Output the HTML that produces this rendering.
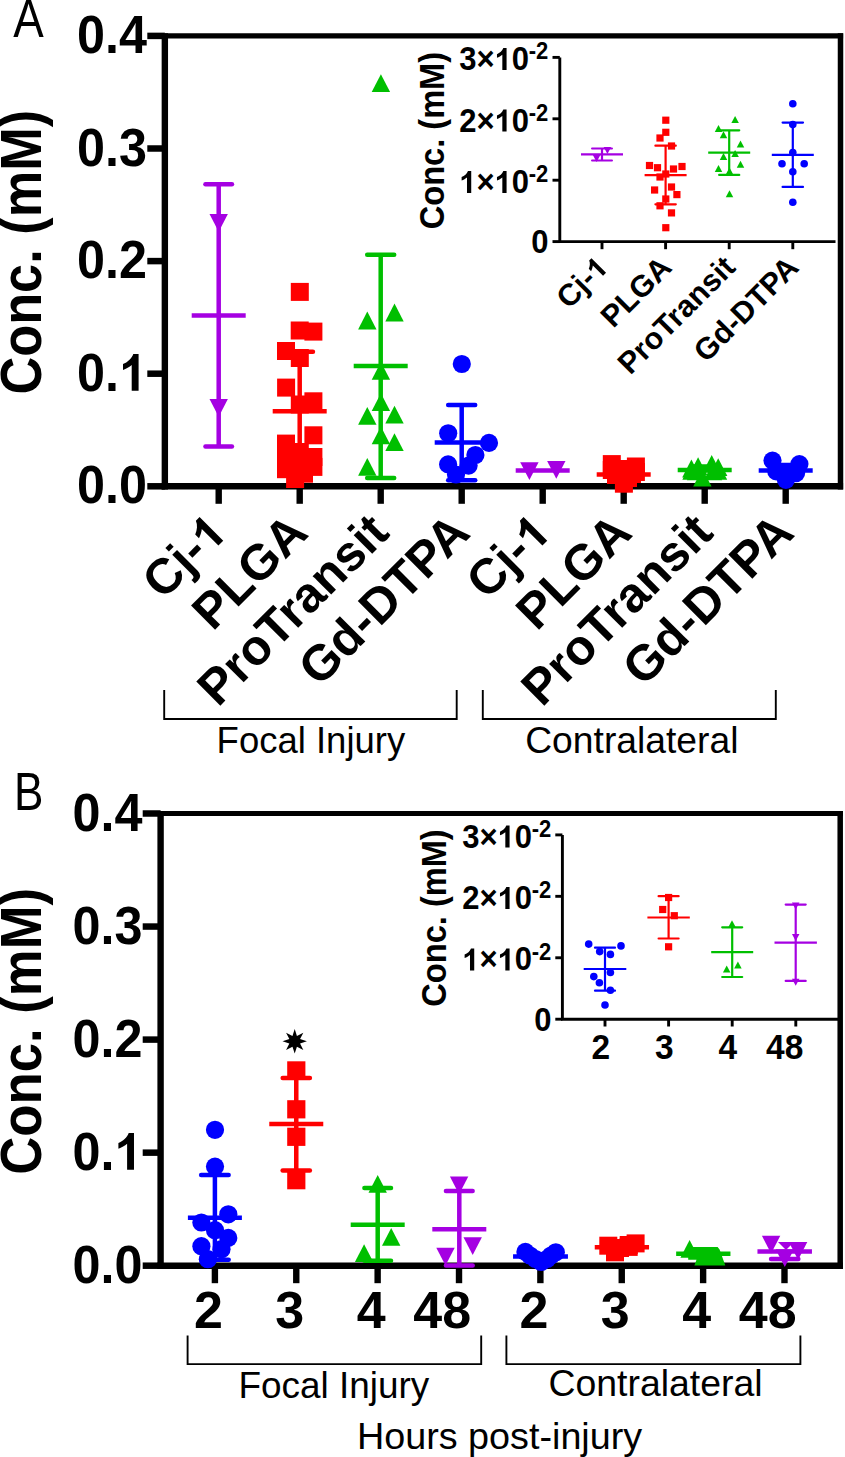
<!DOCTYPE html>
<html><head><meta charset="utf-8"><title>Chart</title>
<style>
html,body{margin:0;padding:0;background:#fff;}
body{width:845px;height:1457px;overflow:hidden;}
svg{display:block;}
text{font-family:"Liberation Sans",sans-serif;}
</style></head>
<body>
<svg width="845" height="1457" viewBox="0 0 845 1457">
<rect x="0" y="0" width="845" height="1457" fill="#fff"/>
<line x1="164.85" y1="35.9" x2="843.1" y2="35.9" stroke="#000000" stroke-width="5.2" stroke-linecap="butt"/>
<line x1="840.5" y1="33.3" x2="840.5" y2="489.5" stroke="#000000" stroke-width="5.5" stroke-linecap="butt"/>
<line x1="164.85" y1="33.3" x2="164.85" y2="489.5" stroke="#000000" stroke-width="6.4" stroke-linecap="butt"/>
<line x1="161.65" y1="486.3" x2="843.1" y2="486.3" stroke="#000000" stroke-width="6.4" stroke-linecap="butt"/>
<line x1="147.3" y1="486.3" x2="164.85" y2="486.3" stroke="#000000" stroke-width="6.5" stroke-linecap="butt"/>
<text transform="translate(147,503.3) scale(1,1.08)" font-family="Liberation Sans, sans-serif" font-size="50.3" font-weight="bold" text-anchor="end" fill="#000000">0.0</text>
<line x1="147.3" y1="373.7" x2="164.85" y2="373.7" stroke="#000000" stroke-width="6.5" stroke-linecap="butt"/>
<g transform="translate(147,390.7) scale(1,1.08)"><text font-family="Liberation Sans, sans-serif" font-size="50.3" font-weight="bold" text-anchor="end" fill="#000000">0. </text><path d="M-15.3,0L-8.41,0L-8.41,-34L-13.69,-34C-15.4,-29.68 -19.42,-26.41 -24,-24.65L-24,-19.26C-20.93,-20.12 -17.41,-22.13 -15.3,-23.89Z" fill="#000000"/></g>
<line x1="147.3" y1="261.1" x2="164.85" y2="261.1" stroke="#000000" stroke-width="6.5" stroke-linecap="butt"/>
<text transform="translate(147,278.1) scale(1,1.08)" font-family="Liberation Sans, sans-serif" font-size="50.3" font-weight="bold" text-anchor="end" fill="#000000">0.2</text>
<line x1="147.3" y1="148.5" x2="164.85" y2="148.5" stroke="#000000" stroke-width="6.5" stroke-linecap="butt"/>
<text transform="translate(147,165.5) scale(1,1.08)" font-family="Liberation Sans, sans-serif" font-size="50.3" font-weight="bold" text-anchor="end" fill="#000000">0.3</text>
<line x1="147.3" y1="35.9" x2="164.85" y2="35.9" stroke="#000000" stroke-width="6.5" stroke-linecap="butt"/>
<text transform="translate(147,52.9) scale(1,1.08)" font-family="Liberation Sans, sans-serif" font-size="50.3" font-weight="bold" text-anchor="end" fill="#000000">0.4</text>
<line x1="218.7" y1="486.3" x2="218.7" y2="503.8" stroke="#000000" stroke-width="6.4" stroke-linecap="butt"/>
<line x1="299.7" y1="486.3" x2="299.7" y2="503.8" stroke="#000000" stroke-width="6.4" stroke-linecap="butt"/>
<line x1="380.7" y1="486.3" x2="380.7" y2="503.8" stroke="#000000" stroke-width="6.4" stroke-linecap="butt"/>
<line x1="461.7" y1="486.3" x2="461.7" y2="503.8" stroke="#000000" stroke-width="6.4" stroke-linecap="butt"/>
<line x1="542.7" y1="486.3" x2="542.7" y2="503.8" stroke="#000000" stroke-width="6.4" stroke-linecap="butt"/>
<line x1="623.7" y1="486.3" x2="623.7" y2="503.8" stroke="#000000" stroke-width="6.4" stroke-linecap="butt"/>
<line x1="704.7" y1="486.3" x2="704.7" y2="503.8" stroke="#000000" stroke-width="6.4" stroke-linecap="butt"/>
<line x1="785.7" y1="486.3" x2="785.7" y2="503.8" stroke="#000000" stroke-width="6.4" stroke-linecap="butt"/>
<text transform="translate(40.5,252.2) rotate(-90) scale(1,1.08)" font-family="Liberation Sans, sans-serif" font-size="52.3" font-weight="bold" text-anchor="middle" fill="#000000">Conc. (mM)</text>
<g transform="translate(216.7,522.5) rotate(-45)"><text font-family="Liberation Sans, sans-serif" font-size="49.5" font-weight="bold" text-anchor="end" fill="#000000" dy="17.5">Cj- </text><path d="M-15.06,17.5L-8.27,17.5L-8.27,-15.96L-13.47,-15.96C-15.15,-11.7 -19.11,-8.49 -23.62,-6.75L-23.62,-1.46C-20.6,-2.3 -17.13,-4.28 -15.06,-6.01Z" fill="#000000"/></g>
<text transform="translate(297.7,522.5) rotate(-45)" font-family="Liberation Sans, sans-serif" font-size="49.5" font-weight="bold" text-anchor="end" fill="#000000" dy="17.5">PLGA</text>
<text transform="translate(378.7,522.5) rotate(-45)" font-family="Liberation Sans, sans-serif" font-size="49.5" font-weight="bold" text-anchor="end" fill="#000000" dy="17.5">ProTransit</text>
<text transform="translate(459.7,522.5) rotate(-45)" font-family="Liberation Sans, sans-serif" font-size="49.5" font-weight="bold" text-anchor="end" fill="#000000" dy="17.5">Gd-DTPA</text>
<g transform="translate(540.7,522.5) rotate(-45)"><text font-family="Liberation Sans, sans-serif" font-size="49.5" font-weight="bold" text-anchor="end" fill="#000000" dy="17.5">Cj- </text><path d="M-15.06,17.5L-8.27,17.5L-8.27,-15.96L-13.47,-15.96C-15.15,-11.7 -19.11,-8.49 -23.62,-6.75L-23.62,-1.46C-20.6,-2.3 -17.13,-4.28 -15.06,-6.01Z" fill="#000000"/></g>
<text transform="translate(621.7,522.5) rotate(-45)" font-family="Liberation Sans, sans-serif" font-size="49.5" font-weight="bold" text-anchor="end" fill="#000000" dy="17.5">PLGA</text>
<text transform="translate(702.7,522.5) rotate(-45)" font-family="Liberation Sans, sans-serif" font-size="49.5" font-weight="bold" text-anchor="end" fill="#000000" dy="17.5">ProTransit</text>
<text transform="translate(783.7,522.5) rotate(-45)" font-family="Liberation Sans, sans-serif" font-size="49.5" font-weight="bold" text-anchor="end" fill="#000000" dy="17.5">Gd-DTPA</text>
<path d="M164.2,690 V719 H456.7 V690" fill="none" stroke="#000" stroke-width="1.9"/>
<path d="M482.8,690 V719 H775.8 V690" fill="none" stroke="#000" stroke-width="1.9"/>
<text transform="translate(216.6,753.2)" font-family="Liberation Sans, sans-serif" font-size="37.5" font-weight="normal" text-anchor="start" fill="#000000" textLength="188.6" lengthAdjust="spacingAndGlyphs">Focal Injury</text>
<text transform="translate(525.2,752.7)" font-family="Liberation Sans, sans-serif" font-size="37.5" font-weight="normal" text-anchor="start" fill="#000000" textLength="213.3" lengthAdjust="spacingAndGlyphs">Contralateral</text>
<text transform="translate(13.2,36.8) scale(0.85,1)" font-family="Liberation Sans, sans-serif" font-size="53.8" font-weight="normal" text-anchor="start" fill="#000000">A</text>
<line x1="218.7" y1="184.3" x2="218.7" y2="446.5" stroke="#A500E2" stroke-width="4.5" stroke-linecap="butt"/>
<line x1="205.45" y1="184.3" x2="231.95" y2="184.3" stroke="#A500E2" stroke-width="4.5" stroke-linecap="round"/>
<line x1="205.45" y1="446.5" x2="231.95" y2="446.5" stroke="#A500E2" stroke-width="4.5" stroke-linecap="round"/>
<line x1="191.7" y1="315.4" x2="245.7" y2="315.4" stroke="#A500E2" stroke-width="4.5" stroke-linecap="butt"/>
<polygon points="209.5,214 227.9,214 218.7,231.8" fill="#A500E2"/>
<polygon points="209.5,398.9 227.9,398.9 218.7,416.7" fill="#A500E2"/>
<line x1="299.7" y1="351.7" x2="299.7" y2="470" stroke="#FF0000" stroke-width="4.5" stroke-linecap="butt"/>
<line x1="286.45" y1="351.7" x2="312.95" y2="351.7" stroke="#FF0000" stroke-width="4.5" stroke-linecap="round"/>
<line x1="286.45" y1="470" x2="312.95" y2="470" stroke="#FF0000" stroke-width="4.5" stroke-linecap="round"/>
<line x1="272.7" y1="411.2" x2="326.7" y2="411.2" stroke="#FF0000" stroke-width="4.5" stroke-linecap="butt"/>
<rect x="290.8" y="282.9" width="18" height="18" fill="#FF0000"/>
<rect x="290.7" y="321.5" width="18" height="18" fill="#FF0000"/>
<rect x="304.4" y="322.6" width="18" height="18" fill="#FF0000"/>
<rect x="277" y="342" width="18" height="18" fill="#FF0000"/>
<rect x="290.8" y="349" width="18" height="18" fill="#FF0000"/>
<rect x="277.1" y="378.6" width="18" height="18" fill="#FF0000"/>
<rect x="290.8" y="395.5" width="18" height="18" fill="#FF0000"/>
<rect x="304.4" y="392.3" width="18" height="18" fill="#FF0000"/>
<rect x="304.4" y="426.3" width="18" height="18" fill="#FF0000"/>
<rect x="277" y="434.6" width="18" height="18" fill="#FF0000"/>
<rect x="277" y="452" width="18" height="18" fill="#FF0000"/>
<rect x="277" y="460.2" width="18" height="18" fill="#FF0000"/>
<rect x="290.8" y="443" width="18" height="18" fill="#FF0000"/>
<rect x="290.8" y="455" width="18" height="18" fill="#FF0000"/>
<rect x="304.4" y="448" width="18" height="18" fill="#FF0000"/>
<rect x="304.4" y="457.9" width="18" height="18" fill="#FF0000"/>
<rect x="295" y="464.7" width="18" height="18" fill="#FF0000"/>
<rect x="286.1" y="470" width="18" height="18" fill="#FF0000"/>
<line x1="380.7" y1="254.8" x2="380.7" y2="478" stroke="#00BF00" stroke-width="4.5" stroke-linecap="butt"/>
<line x1="367.2" y1="254.8" x2="394.2" y2="254.8" stroke="#00BF00" stroke-width="4.5" stroke-linecap="round"/>
<line x1="367.2" y1="478" x2="394.2" y2="478" stroke="#00BF00" stroke-width="4.5" stroke-linecap="round"/>
<line x1="353.7" y1="366.1" x2="407.7" y2="366.1" stroke="#00BF00" stroke-width="4.5" stroke-linecap="butt"/>
<polygon points="371.7,92 380.9,74.2 390.1,92" fill="#00BF00"/>
<polygon points="358.1,329.4 367.3,311.6 376.5,329.4" fill="#00BF00"/>
<polygon points="385.3,321.4 394.5,303.6 403.7,321.4" fill="#00BF00"/>
<polygon points="371.7,379.8 380.9,362 390.1,379.8" fill="#00BF00"/>
<polygon points="371.7,411.1 380.9,393.3 390.1,411.1" fill="#00BF00"/>
<polygon points="358.1,424.7 367.3,406.9 376.5,424.7" fill="#00BF00"/>
<polygon points="385.3,423.5 394.5,405.7 403.7,423.5" fill="#00BF00"/>
<polygon points="371.7,444.3 380.9,426.5 390.1,444.3" fill="#00BF00"/>
<polygon points="385.3,451.1 394.5,433.3 403.7,451.1" fill="#00BF00"/>
<polygon points="358.1,475.7 367.3,457.9 376.5,475.7" fill="#00BF00"/>
<line x1="461.7" y1="405.1" x2="461.7" y2="480.2" stroke="#0000FF" stroke-width="4.5" stroke-linecap="butt"/>
<line x1="448.2" y1="405.1" x2="475.2" y2="405.1" stroke="#0000FF" stroke-width="4.5" stroke-linecap="round"/>
<line x1="448.2" y1="480.2" x2="475.2" y2="480.2" stroke="#0000FF" stroke-width="4.5" stroke-linecap="round"/>
<line x1="434.7" y1="442.5" x2="488.7" y2="442.5" stroke="#0000FF" stroke-width="4.5" stroke-linecap="butt"/>
<circle cx="461.8" cy="364" r="9.1" fill="#0000FF"/>
<circle cx="448.2" cy="433.3" r="9.1" fill="#0000FF"/>
<circle cx="489" cy="442.9" r="9.1" fill="#0000FF"/>
<circle cx="475.4" cy="455" r="9.1" fill="#0000FF"/>
<circle cx="448.1" cy="464.4" r="9.1" fill="#0000FF"/>
<circle cx="468.6" cy="465.6" r="9.1" fill="#0000FF"/>
<circle cx="456" cy="474.5" r="9.1" fill="#0000FF"/>
<line x1="515.7" y1="470.6" x2="569.7" y2="470.6" stroke="#A500E2" stroke-width="4.5" stroke-linecap="butt"/>
<polygon points="520.2,462.2 538.6,462.2 529.4,480" fill="#A500E2"/>
<polygon points="547.1,461 565.5,461 556.3,478.8" fill="#A500E2"/>
<line x1="596.7" y1="474.4" x2="650.7" y2="474.4" stroke="#FF0000" stroke-width="4.5" stroke-linecap="butt"/>
<rect x="602.8" y="455.1" width="18" height="18" fill="#FF0000"/>
<rect x="626.9" y="457.5" width="18" height="18" fill="#FF0000"/>
<rect x="607" y="466" width="18" height="18" fill="#FF0000"/>
<rect x="623" y="465" width="18" height="18" fill="#FF0000"/>
<rect x="614.9" y="474.7" width="18" height="18" fill="#FF0000"/>
<rect x="613" y="460" width="18" height="18" fill="#FF0000"/>
<rect x="619" y="469" width="18" height="18" fill="#FF0000"/>
<rect x="602.8" y="461" width="18" height="18" fill="#FF0000"/>
<rect x="626.9" y="463" width="18" height="18" fill="#FF0000"/>
<line x1="691.45" y1="466.5" x2="717.95" y2="466.5" stroke="#00BF00" stroke-width="4.5" stroke-linecap="round"/>
<line x1="677.7" y1="470" x2="731.7" y2="470" stroke="#00BF00" stroke-width="4.5" stroke-linecap="butt"/>
<polygon points="682.2,477.4 691.4,459.6 700.6,477.4" fill="#00BF00"/>
<polygon points="688.9,475 698.1,457.2 707.3,475" fill="#00BF00"/>
<polygon points="702.5,472.8 711.7,455 720.9,472.8" fill="#00BF00"/>
<polygon points="709,476.1 718.2,458.3 727.4,476.1" fill="#00BF00"/>
<polygon points="693.2,486.6 702.4,468.8 711.6,486.6" fill="#00BF00"/>
<polygon points="682.3,479.8 691.5,462 700.7,479.8" fill="#00BF00"/>
<polygon points="708.8,479.8 718,462 727.2,479.8" fill="#00BF00"/>
<polygon points="686.8,480.3 696,462.5 705.2,480.3" fill="#00BF00"/>
<polygon points="703.8,480.3 713,462.5 722.2,480.3" fill="#00BF00"/>
<line x1="772.45" y1="465" x2="798.95" y2="465" stroke="#0000FF" stroke-width="4.5" stroke-linecap="round"/>
<line x1="758.7" y1="470.6" x2="812.7" y2="470.6" stroke="#0000FF" stroke-width="4.5" stroke-linecap="butt"/>
<circle cx="772.5" cy="460.6" r="9.1" fill="#0000FF"/>
<circle cx="799.4" cy="464.1" r="9.1" fill="#0000FF"/>
<circle cx="776.3" cy="471.3" r="9.1" fill="#0000FF"/>
<circle cx="785.9" cy="479.8" r="9.1" fill="#0000FF"/>
<circle cx="796.1" cy="473.1" r="9.1" fill="#0000FF"/>
<circle cx="786" cy="474.5" r="9.1" fill="#0000FF"/>
<path d="M559.8,57.4 V241.6 H835.5" fill="none" stroke="#000" stroke-width="2.9"/>
<line x1="552.5" y1="241.6" x2="559.8" y2="241.6" stroke="#000000" stroke-width="2.9" stroke-linecap="butt"/>
<line x1="552.5" y1="180.2" x2="559.8" y2="180.2" stroke="#000000" stroke-width="2.9" stroke-linecap="butt"/>
<line x1="552.5" y1="118.8" x2="559.8" y2="118.8" stroke="#000000" stroke-width="2.9" stroke-linecap="butt"/>
<line x1="552.5" y1="57.4" x2="559.8" y2="57.4" stroke="#000000" stroke-width="2.9" stroke-linecap="butt"/>
<line x1="602" y1="241.6" x2="602" y2="249.2" stroke="#000000" stroke-width="2.9" stroke-linecap="butt"/>
<line x1="665.6" y1="241.6" x2="665.6" y2="249.2" stroke="#000000" stroke-width="2.9" stroke-linecap="butt"/>
<line x1="729.2" y1="241.6" x2="729.2" y2="249.2" stroke="#000000" stroke-width="2.9" stroke-linecap="butt"/>
<line x1="792.8" y1="241.6" x2="792.8" y2="249.2" stroke="#000000" stroke-width="2.9" stroke-linecap="butt"/>
<g transform="translate(529,192.9) scale(1,1.05)"><text font-family="Liberation Sans, sans-serif" font-size="31" font-weight="bold" text-anchor="end" fill="#000000"> × 0</text><path d="M-62.01,0L-57.77,0L-57.77,-20.96L-61.02,-20.96C-62.08,-18.29 -64.56,-16.28 -67.38,-15.19L-67.38,-11.87C-65.49,-12.4 -63.32,-13.64 -62.01,-14.72ZM-26.67,0L-22.42,0L-22.42,-20.96L-25.68,-20.96C-26.73,-18.29 -29.21,-16.28 -32.03,-15.19L-32.03,-11.87C-30.14,-12.4 -27.97,-13.64 -26.67,-14.72Z" fill="#000000"/></g>
<text transform="translate(548.3,182) scale(1,1.05)" font-family="Liberation Sans, sans-serif" font-size="22" font-weight="bold" text-anchor="end" fill="#000000">-2</text>
<g transform="translate(529,131.5) scale(1,1.05)"><text font-family="Liberation Sans, sans-serif" font-size="31" font-weight="bold" text-anchor="end" fill="#000000">2× 0</text><path d="M-26.67,0L-22.42,0L-22.42,-20.96L-25.68,-20.96C-26.73,-18.29 -29.21,-16.28 -32.03,-15.19L-32.03,-11.87C-30.14,-12.4 -27.97,-13.64 -26.67,-14.72Z" fill="#000000"/></g>
<text transform="translate(548.3,120.6) scale(1,1.05)" font-family="Liberation Sans, sans-serif" font-size="22" font-weight="bold" text-anchor="end" fill="#000000">-2</text>
<g transform="translate(529,70.1) scale(1,1.05)"><text font-family="Liberation Sans, sans-serif" font-size="31" font-weight="bold" text-anchor="end" fill="#000000">3× 0</text><path d="M-26.67,0L-22.42,0L-22.42,-20.96L-25.68,-20.96C-26.73,-18.29 -29.21,-16.28 -32.03,-15.19L-32.03,-11.87C-30.14,-12.4 -27.97,-13.64 -26.67,-14.72Z" fill="#000000"/></g>
<text transform="translate(548.3,59.2) scale(1,1.05)" font-family="Liberation Sans, sans-serif" font-size="22" font-weight="bold" text-anchor="end" fill="#000000">-2</text>
<text transform="translate(548.6,253.4) scale(1,1.05)" font-family="Liberation Sans, sans-serif" font-size="31" font-weight="bold" text-anchor="end" fill="#000000">0</text>
<text transform="translate(443.5,140.6) rotate(-90) scale(1,1.05)" font-family="Liberation Sans, sans-serif" font-size="32.6" font-weight="bold" text-anchor="middle" fill="#000000">Conc. (mM)</text>
<g transform="translate(602,261.5) rotate(-45)"><text font-family="Liberation Sans, sans-serif" font-size="30.5" font-weight="bold" text-anchor="end" fill="#000000" dy="10.8">Cj- </text><path d="M-9.28,10.8L-5.1,10.8L-5.1,-9.82L-8.3,-9.82C-9.34,-7.19 -11.78,-5.21 -14.55,-4.14L-14.55,-0.88C-12.69,-1.4 -10.56,-2.62 -9.28,-3.69Z" fill="#000000"/></g>
<text transform="translate(665.6,261.5) rotate(-45)" font-family="Liberation Sans, sans-serif" font-size="30.5" font-weight="bold" text-anchor="end" fill="#000000" dy="10.8">PLGA</text>
<text transform="translate(729.2,261.5) rotate(-45)" font-family="Liberation Sans, sans-serif" font-size="30.5" font-weight="bold" text-anchor="end" fill="#000000" dy="10.8">ProTransit</text>
<text transform="translate(792.8,261.5) rotate(-45)" font-family="Liberation Sans, sans-serif" font-size="30.5" font-weight="bold" text-anchor="end" fill="#000000" dy="10.8">Gd-DTPA</text>
<line x1="602" y1="148.5" x2="602" y2="160.5" stroke="#A500E2" stroke-width="2.2" stroke-linecap="butt"/>
<line x1="592.1" y1="148.5" x2="611.9" y2="148.5" stroke="#A500E2" stroke-width="2.2" stroke-linecap="round"/>
<line x1="592.1" y1="160.5" x2="611.9" y2="160.5" stroke="#A500E2" stroke-width="2.2" stroke-linecap="round"/>
<line x1="581" y1="154.3" x2="623" y2="154.3" stroke="#A500E2" stroke-width="2.2" stroke-linecap="butt"/>
<polygon points="592.85,155 600.35,155 596.6,162" fill="#A500E2"/>
<polygon points="603.65,147 611.15,147 607.4,154" fill="#A500E2"/>
<line x1="665.6" y1="145.7" x2="665.6" y2="204.3" stroke="#FF0000" stroke-width="2.2" stroke-linecap="butt"/>
<line x1="655.4" y1="145.7" x2="675.8" y2="145.7" stroke="#FF0000" stroke-width="2.2" stroke-linecap="round"/>
<line x1="655.4" y1="204.3" x2="675.8" y2="204.3" stroke="#FF0000" stroke-width="2.2" stroke-linecap="round"/>
<line x1="644.6" y1="175.1" x2="686.6" y2="175.1" stroke="#FF0000" stroke-width="2.2" stroke-linecap="butt"/>
<rect x="662.2" y="116.6" width="7.2" height="7.2" fill="#FF0000"/>
<rect x="662.2" y="128.7" width="7.2" height="7.2" fill="#FF0000"/>
<rect x="656.4" y="134.4" width="7.2" height="7.2" fill="#FF0000"/>
<rect x="667.9" y="142.4" width="7.2" height="7.2" fill="#FF0000"/>
<rect x="645.9" y="161.9" width="7.2" height="7.2" fill="#FF0000"/>
<rect x="653.9" y="164.1" width="7.2" height="7.2" fill="#FF0000"/>
<rect x="669.9" y="165.4" width="7.2" height="7.2" fill="#FF0000"/>
<rect x="678.4" y="162.9" width="7.2" height="7.2" fill="#FF0000"/>
<rect x="662.2" y="170.4" width="7.2" height="7.2" fill="#FF0000"/>
<rect x="656.4" y="173.4" width="7.2" height="7.2" fill="#FF0000"/>
<rect x="651" y="186.4" width="7.2" height="7.2" fill="#FF0000"/>
<rect x="667.9" y="183.4" width="7.2" height="7.2" fill="#FF0000"/>
<rect x="673.3" y="191" width="7.2" height="7.2" fill="#FF0000"/>
<rect x="662.2" y="195.4" width="7.2" height="7.2" fill="#FF0000"/>
<rect x="656.4" y="202.2" width="7.2" height="7.2" fill="#FF0000"/>
<rect x="667.9" y="209.3" width="7.2" height="7.2" fill="#FF0000"/>
<rect x="662.2" y="224.1" width="7.2" height="7.2" fill="#FF0000"/>
<line x1="729.2" y1="130.3" x2="729.2" y2="174.9" stroke="#00BF00" stroke-width="2.2" stroke-linecap="butt"/>
<line x1="719.15" y1="130.3" x2="739.25" y2="130.3" stroke="#00BF00" stroke-width="2.2" stroke-linecap="round"/>
<line x1="719.15" y1="174.9" x2="739.25" y2="174.9" stroke="#00BF00" stroke-width="2.2" stroke-linecap="round"/>
<line x1="708.2" y1="152.6" x2="750.2" y2="152.6" stroke="#00BF00" stroke-width="2.2" stroke-linecap="butt"/>
<polygon points="731.35,123.1 735.1,116.1 738.85,123.1" fill="#00BF00"/>
<polygon points="714.75,131.9 718.5,124.9 722.25,131.9" fill="#00BF00"/>
<polygon points="719.75,138.3 723.5,131.3 727.25,138.3" fill="#00BF00"/>
<polygon points="736.75,147.6 740.5,140.6 744.25,147.6" fill="#00BF00"/>
<polygon points="719.75,160 723.5,153 727.25,160" fill="#00BF00"/>
<polygon points="731.35,156.9 735.1,149.9 738.85,156.9" fill="#00BF00"/>
<polygon points="736.75,167.7 740.5,160.7 744.25,167.7" fill="#00BF00"/>
<polygon points="714.75,171.9 718.5,164.9 722.25,171.9" fill="#00BF00"/>
<polygon points="725.75,174.5 729.5,167.5 733.25,174.5" fill="#00BF00"/>
<polygon points="725.75,197.2 729.5,190.2 733.25,197.2" fill="#00BF00"/>
<line x1="792.8" y1="122.6" x2="792.8" y2="186.9" stroke="#0000FF" stroke-width="2.2" stroke-linecap="butt"/>
<line x1="782.6" y1="122.6" x2="803" y2="122.6" stroke="#0000FF" stroke-width="2.2" stroke-linecap="round"/>
<line x1="782.6" y1="186.9" x2="803" y2="186.9" stroke="#0000FF" stroke-width="2.2" stroke-linecap="round"/>
<line x1="771.8" y1="154.9" x2="813.8" y2="154.9" stroke="#0000FF" stroke-width="2.2" stroke-linecap="butt"/>
<circle cx="792.8" cy="103.8" r="3.8" fill="#0000FF"/>
<circle cx="792.8" cy="124.6" r="3.8" fill="#0000FF"/>
<circle cx="792.8" cy="152.6" r="3.8" fill="#0000FF"/>
<circle cx="782" cy="163.8" r="3.8" fill="#0000FF"/>
<circle cx="804.2" cy="163.8" r="3.8" fill="#0000FF"/>
<circle cx="792.8" cy="171.8" r="3.8" fill="#0000FF"/>
<circle cx="792.8" cy="202.3" r="3.8" fill="#0000FF"/>
<line x1="160.6" y1="813.5" x2="842.8" y2="813.5" stroke="#000000" stroke-width="5.2" stroke-linecap="butt"/>
<line x1="840.2" y1="810.9" x2="840.2" y2="1268.9" stroke="#000000" stroke-width="5.5" stroke-linecap="butt"/>
<line x1="160.6" y1="810.9" x2="160.6" y2="1268.9" stroke="#000000" stroke-width="6.4" stroke-linecap="butt"/>
<line x1="157.4" y1="1265.7" x2="842.8" y2="1265.7" stroke="#000000" stroke-width="6.4" stroke-linecap="butt"/>
<line x1="142.7" y1="1265.7" x2="160.6" y2="1265.7" stroke="#000000" stroke-width="6.5" stroke-linecap="butt"/>
<text transform="translate(142.4,1282.7) scale(1,1.08)" font-family="Liberation Sans, sans-serif" font-size="50.3" font-weight="bold" text-anchor="end" fill="#000000">0.0</text>
<line x1="142.7" y1="1152.65" x2="160.6" y2="1152.65" stroke="#000000" stroke-width="6.5" stroke-linecap="butt"/>
<g transform="translate(142.4,1169.65) scale(1,1.08)"><text font-family="Liberation Sans, sans-serif" font-size="50.3" font-weight="bold" text-anchor="end" fill="#000000">0. </text><path d="M-15.3,0L-8.41,0L-8.41,-34L-13.69,-34C-15.4,-29.68 -19.42,-26.41 -24,-24.65L-24,-19.26C-20.93,-20.12 -17.41,-22.13 -15.3,-23.89Z" fill="#000000"/></g>
<line x1="142.7" y1="1039.6" x2="160.6" y2="1039.6" stroke="#000000" stroke-width="6.5" stroke-linecap="butt"/>
<text transform="translate(142.4,1056.6) scale(1,1.08)" font-family="Liberation Sans, sans-serif" font-size="50.3" font-weight="bold" text-anchor="end" fill="#000000">0.2</text>
<line x1="142.7" y1="926.55" x2="160.6" y2="926.55" stroke="#000000" stroke-width="6.5" stroke-linecap="butt"/>
<text transform="translate(142.4,943.55) scale(1,1.08)" font-family="Liberation Sans, sans-serif" font-size="50.3" font-weight="bold" text-anchor="end" fill="#000000">0.3</text>
<line x1="142.7" y1="813.5" x2="160.6" y2="813.5" stroke="#000000" stroke-width="6.5" stroke-linecap="butt"/>
<text transform="translate(142.4,830.5) scale(1,1.08)" font-family="Liberation Sans, sans-serif" font-size="50.3" font-weight="bold" text-anchor="end" fill="#000000">0.4</text>
<line x1="214.9" y1="1265.7" x2="214.9" y2="1283.2" stroke="#000000" stroke-width="6.4" stroke-linecap="butt"/>
<line x1="296.27" y1="1265.7" x2="296.27" y2="1283.2" stroke="#000000" stroke-width="6.4" stroke-linecap="butt"/>
<line x1="377.64" y1="1265.7" x2="377.64" y2="1283.2" stroke="#000000" stroke-width="6.4" stroke-linecap="butt"/>
<line x1="459.01" y1="1265.7" x2="459.01" y2="1283.2" stroke="#000000" stroke-width="6.4" stroke-linecap="butt"/>
<line x1="540.38" y1="1265.7" x2="540.38" y2="1283.2" stroke="#000000" stroke-width="6.4" stroke-linecap="butt"/>
<line x1="621.75" y1="1265.7" x2="621.75" y2="1283.2" stroke="#000000" stroke-width="6.4" stroke-linecap="butt"/>
<line x1="703.12" y1="1265.7" x2="703.12" y2="1283.2" stroke="#000000" stroke-width="6.4" stroke-linecap="butt"/>
<line x1="784.49" y1="1265.7" x2="784.49" y2="1283.2" stroke="#000000" stroke-width="6.4" stroke-linecap="butt"/>
<text transform="translate(40.5,1031.3) rotate(-90) scale(1,1.08)" font-family="Liberation Sans, sans-serif" font-size="52.7" font-weight="bold" text-anchor="middle" fill="#000000">Conc. (mM)</text>
<text transform="translate(208.4,1328)" font-family="Liberation Sans, sans-serif" font-size="52" font-weight="bold" text-anchor="middle" fill="#000000">2</text>
<text transform="translate(289.77,1328)" font-family="Liberation Sans, sans-serif" font-size="52" font-weight="bold" text-anchor="middle" fill="#000000">3</text>
<text transform="translate(371.14,1328)" font-family="Liberation Sans, sans-serif" font-size="52" font-weight="bold" text-anchor="middle" fill="#000000">4</text>
<text transform="translate(442.21,1328)" font-family="Liberation Sans, sans-serif" font-size="52" font-weight="bold" text-anchor="middle" fill="#000000">48</text>
<text transform="translate(533.88,1328)" font-family="Liberation Sans, sans-serif" font-size="52" font-weight="bold" text-anchor="middle" fill="#000000">2</text>
<text transform="translate(615.25,1328)" font-family="Liberation Sans, sans-serif" font-size="52" font-weight="bold" text-anchor="middle" fill="#000000">3</text>
<text transform="translate(696.62,1328)" font-family="Liberation Sans, sans-serif" font-size="52" font-weight="bold" text-anchor="middle" fill="#000000">4</text>
<text transform="translate(767.69,1328)" font-family="Liberation Sans, sans-serif" font-size="52" font-weight="bold" text-anchor="middle" fill="#000000">48</text>
<path d="M187.6,1335.6 V1364.1 H481.2 V1335.6" fill="none" stroke="#000" stroke-width="1.9"/>
<path d="M506.4,1335.6 V1364.1 H800.4 V1335.6" fill="none" stroke="#000" stroke-width="1.9"/>
<text transform="translate(238.5,1398.1)" font-family="Liberation Sans, sans-serif" font-size="37.5" font-weight="normal" text-anchor="start" fill="#000000" textLength="190.8" lengthAdjust="spacingAndGlyphs">Focal Injury</text>
<text transform="translate(548.5,1396.1)" font-family="Liberation Sans, sans-serif" font-size="37.5" font-weight="normal" text-anchor="start" fill="#000000" textLength="214" lengthAdjust="spacingAndGlyphs">Contralateral</text>
<text transform="translate(356.9,1449.2)" font-family="Liberation Sans, sans-serif" font-size="37.5" font-weight="normal" text-anchor="start" fill="#000000" textLength="285.3" lengthAdjust="spacingAndGlyphs">Hours post-injury</text>
<text transform="translate(14.1,810) scale(0.82,1)" font-family="Liberation Sans, sans-serif" font-size="53.8" font-weight="normal" text-anchor="start" fill="#000000">B</text>
<line x1="214.9" y1="1174.9" x2="214.9" y2="1259.8" stroke="#0000FF" stroke-width="4.5" stroke-linecap="butt"/>
<line x1="201.15" y1="1174.9" x2="228.65" y2="1174.9" stroke="#0000FF" stroke-width="4.5" stroke-linecap="round"/>
<line x1="201.15" y1="1259.8" x2="228.65" y2="1259.8" stroke="#0000FF" stroke-width="4.5" stroke-linecap="round"/>
<line x1="187.9" y1="1217.8" x2="241.9" y2="1217.8" stroke="#0000FF" stroke-width="4.5" stroke-linecap="butt"/>
<circle cx="215" cy="1129.8" r="9.1" fill="#0000FF"/>
<circle cx="215" cy="1166.6" r="9.1" fill="#0000FF"/>
<circle cx="228.3" cy="1214.3" r="9.1" fill="#0000FF"/>
<circle cx="201.4" cy="1222.5" r="9.1" fill="#0000FF"/>
<circle cx="215" cy="1230.2" r="9.1" fill="#0000FF"/>
<circle cx="228.3" cy="1237.9" r="9.1" fill="#0000FF"/>
<circle cx="201.4" cy="1246.2" r="9.1" fill="#0000FF"/>
<circle cx="221.5" cy="1249.2" r="9.1" fill="#0000FF"/>
<circle cx="207.9" cy="1259.2" r="9.1" fill="#0000FF"/>
<line x1="296.27" y1="1078" x2="296.27" y2="1170.4" stroke="#FF0000" stroke-width="4.5" stroke-linecap="butt"/>
<line x1="282.67" y1="1078" x2="309.87" y2="1078" stroke="#FF0000" stroke-width="4.5" stroke-linecap="round"/>
<line x1="282.67" y1="1170.4" x2="309.87" y2="1170.4" stroke="#FF0000" stroke-width="4.5" stroke-linecap="round"/>
<line x1="269.27" y1="1124" x2="323.27" y2="1124" stroke="#FF0000" stroke-width="4.5" stroke-linecap="butt"/>
<rect x="287.2" y="1061.3" width="18.2" height="18.2" fill="#FF0000"/>
<rect x="287.2" y="1100.2" width="18.2" height="18.2" fill="#FF0000"/>
<rect x="287.2" y="1127.7" width="18.2" height="18.2" fill="#FF0000"/>
<rect x="287.2" y="1171.1" width="18.2" height="18.2" fill="#FF0000"/>
<polygon points="294.7,1029.1 292.48,1035.94 286.07,1032.67 289.34,1039.08 282.5,1041.3 289.34,1043.52 286.07,1049.93 292.48,1046.66 294.7,1053.5 296.92,1046.66 303.33,1049.93 300.06,1043.52 306.9,1041.3 300.06,1039.08 303.33,1032.67 296.92,1035.94" fill="#000"/>
<line x1="377.7" y1="1188" x2="377.7" y2="1260.8" stroke="#00BF00" stroke-width="4.5" stroke-linecap="butt"/>
<line x1="364.4" y1="1188" x2="391" y2="1188" stroke="#00BF00" stroke-width="4.5" stroke-linecap="round"/>
<line x1="364.4" y1="1260.8" x2="391" y2="1260.8" stroke="#00BF00" stroke-width="4.5" stroke-linecap="round"/>
<line x1="350.7" y1="1224.7" x2="404.7" y2="1224.7" stroke="#00BF00" stroke-width="4.5" stroke-linecap="butt"/>
<polygon points="368.5,1192.8 377.7,1175 386.9,1192.8" fill="#00BF00"/>
<polygon points="382,1245.8 391.2,1228 400.4,1245.8" fill="#00BF00"/>
<polygon points="354.9,1262.1 364.1,1244.3 373.3,1262.1" fill="#00BF00"/>
<line x1="459.3" y1="1191" x2="459.3" y2="1265.6" stroke="#A500E2" stroke-width="4.5" stroke-linecap="butt"/>
<line x1="445.95" y1="1191" x2="472.65" y2="1191" stroke="#A500E2" stroke-width="4.5" stroke-linecap="round"/>
<line x1="445.95" y1="1265.6" x2="472.65" y2="1265.6" stroke="#A500E2" stroke-width="4.5" stroke-linecap="round"/>
<line x1="432.3" y1="1229.2" x2="486.3" y2="1229.2" stroke="#A500E2" stroke-width="4.5" stroke-linecap="butt"/>
<polygon points="449.9,1176.5 468.3,1176.5 459.1,1194.3" fill="#A500E2"/>
<polygon points="463.5,1237.2 481.9,1237.2 472.7,1255" fill="#A500E2"/>
<polygon points="436.3,1247.8 454.7,1247.8 445.5,1265.6" fill="#A500E2"/>
<line x1="513.05" y1="1256.6" x2="567.95" y2="1256.6" stroke="#0000FF" stroke-width="4.5" stroke-linecap="butt"/>
<circle cx="525.4" cy="1251.9" r="9.1" fill="#0000FF"/>
<circle cx="555.8" cy="1252.3" r="9.1" fill="#0000FF"/>
<circle cx="541.2" cy="1262" r="9.1" fill="#0000FF"/>
<circle cx="530" cy="1255.5" r="9.1" fill="#0000FF"/>
<circle cx="551" cy="1255.5" r="9.1" fill="#0000FF"/>
<circle cx="535.5" cy="1259" r="9.1" fill="#0000FF"/>
<circle cx="547" cy="1259" r="9.1" fill="#0000FF"/>
<line x1="594.75" y1="1247.2" x2="649.05" y2="1247.2" stroke="#FF0000" stroke-width="4.5" stroke-linecap="butt"/>
<rect x="599.3" y="1236.7" width="18" height="18" fill="#FF0000"/>
<rect x="626.6" y="1234.4" width="18" height="18" fill="#FF0000"/>
<rect x="619.7" y="1237.9" width="18" height="18" fill="#FF0000"/>
<rect x="606" y="1243.3" width="18" height="18" fill="#FF0000"/>
<rect x="611" y="1239" width="18" height="18" fill="#FF0000"/>
<rect x="619.7" y="1236" width="18" height="18" fill="#FF0000"/>
<line x1="676.15" y1="1253.7" x2="730.45" y2="1253.7" stroke="#00BF00" stroke-width="4.5" stroke-linecap="butt"/>
<polygon points="680.4,1257.7 689.6,1239.9 698.8,1257.7" fill="#00BF00"/>
<polygon points="693.2,1247 717.6,1247 719.6,1249.5 725.3,1265.6 694.4,1265.6 696.5,1259.8 688.2,1259.8 688.2,1255 693.2,1247" fill="#00BF00"/>
<line x1="771.05" y1="1258.9" x2="798.35" y2="1258.9" stroke="#A500E2" stroke-width="4.5" stroke-linecap="round"/>
<line x1="757.45" y1="1251.6" x2="811.95" y2="1251.6" stroke="#A500E2" stroke-width="4.5" stroke-linecap="butt"/>
<polygon points="761.9,1235.8 780.3,1235.8 771.1,1253.6" fill="#A500E2"/>
<polygon points="788.9,1242.1 807.3,1242.1 798.1,1259.9" fill="#A500E2"/>
<polygon points="775.6,1249.2 794,1249.2 784.8,1267" fill="#A500E2"/>
<polygon points="778,1242 794,1242 786,1250" fill="#A500E2"/>
<path d="M562.4,834.9 V1019.2 H840.3" fill="none" stroke="#000" stroke-width="2.9"/>
<line x1="555.3" y1="1019.2" x2="562.4" y2="1019.2" stroke="#000000" stroke-width="2.9" stroke-linecap="butt"/>
<line x1="555.3" y1="957.77" x2="562.4" y2="957.77" stroke="#000000" stroke-width="2.9" stroke-linecap="butt"/>
<line x1="555.3" y1="896.33" x2="562.4" y2="896.33" stroke="#000000" stroke-width="2.9" stroke-linecap="butt"/>
<line x1="555.3" y1="834.9" x2="562.4" y2="834.9" stroke="#000000" stroke-width="2.9" stroke-linecap="butt"/>
<line x1="605" y1="1019.2" x2="605" y2="1026.5" stroke="#000000" stroke-width="2.9" stroke-linecap="butt"/>
<line x1="668.6" y1="1019.2" x2="668.6" y2="1026.5" stroke="#000000" stroke-width="2.9" stroke-linecap="butt"/>
<line x1="732.2" y1="1019.2" x2="732.2" y2="1026.5" stroke="#000000" stroke-width="2.9" stroke-linecap="butt"/>
<line x1="795.8" y1="1019.2" x2="795.8" y2="1026.5" stroke="#000000" stroke-width="2.9" stroke-linecap="butt"/>
<g transform="translate(532,970.47) scale(1,1.05)"><text font-family="Liberation Sans, sans-serif" font-size="31" font-weight="bold" text-anchor="end" fill="#000000"> × 0</text><path d="M-62.01,0L-57.77,0L-57.77,-20.96L-61.02,-20.96C-62.08,-18.29 -64.56,-16.28 -67.38,-15.19L-67.38,-11.87C-65.49,-12.4 -63.32,-13.64 -62.01,-14.72ZM-26.67,0L-22.42,0L-22.42,-20.96L-25.68,-20.96C-26.73,-18.29 -29.21,-16.28 -32.03,-15.19L-32.03,-11.87C-30.14,-12.4 -27.97,-13.64 -26.67,-14.72Z" fill="#000000"/></g>
<text transform="translate(551.3,959.57) scale(1,1.05)" font-family="Liberation Sans, sans-serif" font-size="22" font-weight="bold" text-anchor="end" fill="#000000">-2</text>
<g transform="translate(532,909.03) scale(1,1.05)"><text font-family="Liberation Sans, sans-serif" font-size="31" font-weight="bold" text-anchor="end" fill="#000000">2× 0</text><path d="M-26.67,0L-22.42,0L-22.42,-20.96L-25.68,-20.96C-26.73,-18.29 -29.21,-16.28 -32.03,-15.19L-32.03,-11.87C-30.14,-12.4 -27.97,-13.64 -26.67,-14.72Z" fill="#000000"/></g>
<text transform="translate(551.3,898.13) scale(1,1.05)" font-family="Liberation Sans, sans-serif" font-size="22" font-weight="bold" text-anchor="end" fill="#000000">-2</text>
<g transform="translate(532,847.6) scale(1,1.05)"><text font-family="Liberation Sans, sans-serif" font-size="31" font-weight="bold" text-anchor="end" fill="#000000">3× 0</text><path d="M-26.67,0L-22.42,0L-22.42,-20.96L-25.68,-20.96C-26.73,-18.29 -29.21,-16.28 -32.03,-15.19L-32.03,-11.87C-30.14,-12.4 -27.97,-13.64 -26.67,-14.72Z" fill="#000000"/></g>
<text transform="translate(551.3,836.7) scale(1,1.05)" font-family="Liberation Sans, sans-serif" font-size="22" font-weight="bold" text-anchor="end" fill="#000000">-2</text>
<text transform="translate(551.4,1030.7) scale(1,1.05)" font-family="Liberation Sans, sans-serif" font-size="31" font-weight="bold" text-anchor="end" fill="#000000">0</text>
<text transform="translate(446,918) rotate(-90) scale(1,1.05)" font-family="Liberation Sans, sans-serif" font-size="32.6" font-weight="bold" text-anchor="middle" fill="#000000">Conc. (mM)</text>
<text transform="translate(600.7,1058.5) scale(1,1.03)" font-family="Liberation Sans, sans-serif" font-size="33.5" font-weight="bold" text-anchor="middle" fill="#000000">2</text>
<text transform="translate(664.3,1058.5) scale(1,1.03)" font-family="Liberation Sans, sans-serif" font-size="33.5" font-weight="bold" text-anchor="middle" fill="#000000">3</text>
<text transform="translate(727.9,1058.5) scale(1,1.03)" font-family="Liberation Sans, sans-serif" font-size="33.5" font-weight="bold" text-anchor="middle" fill="#000000">4</text>
<text transform="translate(784.7,1058.5) scale(1,1.03)" font-family="Liberation Sans, sans-serif" font-size="33.5" font-weight="bold" text-anchor="middle" fill="#000000">48</text>
<line x1="605" y1="947.7" x2="605" y2="990.7" stroke="#0000FF" stroke-width="2.2" stroke-linecap="butt"/>
<line x1="595" y1="947.7" x2="615" y2="947.7" stroke="#0000FF" stroke-width="2.2" stroke-linecap="round"/>
<line x1="595" y1="990.7" x2="615" y2="990.7" stroke="#0000FF" stroke-width="2.2" stroke-linecap="round"/>
<line x1="583.7" y1="969" x2="626.3" y2="969" stroke="#0000FF" stroke-width="2.2" stroke-linecap="butt"/>
<circle cx="588.7" cy="944.1" r="3.8" fill="#0000FF"/>
<circle cx="621" cy="945.9" r="3.8" fill="#0000FF"/>
<circle cx="599.7" cy="951.6" r="3.8" fill="#0000FF"/>
<circle cx="610.4" cy="954.4" r="3.8" fill="#0000FF"/>
<circle cx="610.4" cy="972.5" r="3.8" fill="#0000FF"/>
<circle cx="593.8" cy="976.6" r="3.8" fill="#0000FF"/>
<circle cx="599.4" cy="982.8" r="3.8" fill="#0000FF"/>
<circle cx="610.4" cy="990.3" r="3.8" fill="#0000FF"/>
<circle cx="605" cy="1005" r="3.8" fill="#0000FF"/>
<line x1="668.6" y1="896.2" x2="668.6" y2="938.5" stroke="#FF0000" stroke-width="2.2" stroke-linecap="butt"/>
<line x1="658.6" y1="896.2" x2="678.6" y2="896.2" stroke="#FF0000" stroke-width="2.2" stroke-linecap="round"/>
<line x1="658.6" y1="938.5" x2="678.6" y2="938.5" stroke="#FF0000" stroke-width="2.2" stroke-linecap="round"/>
<line x1="647.4" y1="917.5" x2="689.8" y2="917.5" stroke="#FF0000" stroke-width="2.2" stroke-linecap="butt"/>
<rect x="665" y="893.9" width="7.2" height="7.2" fill="#FF0000"/>
<rect x="659.1" y="905.9" width="7.2" height="7.2" fill="#FF0000"/>
<rect x="670.7" y="912.1" width="7.2" height="7.2" fill="#FF0000"/>
<rect x="665" y="943.2" width="7.2" height="7.2" fill="#FF0000"/>
<line x1="732.2" y1="927.3" x2="732.2" y2="977" stroke="#00BF00" stroke-width="2.2" stroke-linecap="butt"/>
<line x1="722.2" y1="927.3" x2="742.2" y2="927.3" stroke="#00BF00" stroke-width="2.2" stroke-linecap="round"/>
<line x1="722.2" y1="977" x2="742.2" y2="977" stroke="#00BF00" stroke-width="2.2" stroke-linecap="round"/>
<line x1="711.2" y1="952.1" x2="753.2" y2="952.1" stroke="#00BF00" stroke-width="2.2" stroke-linecap="butt"/>
<polygon points="728.25,927.2 732,920.2 735.75,927.2" fill="#00BF00"/>
<polygon points="722.95,972.5 726.7,965.5 730.45,972.5" fill="#00BF00"/>
<polygon points="734.15,968.4 737.9,961.4 741.65,968.4" fill="#00BF00"/>
<line x1="795.7" y1="904.6" x2="795.7" y2="980.9" stroke="#A500E2" stroke-width="2.2" stroke-linecap="butt"/>
<line x1="785.7" y1="904.6" x2="805.7" y2="904.6" stroke="#A500E2" stroke-width="2.2" stroke-linecap="round"/>
<line x1="785.7" y1="980.9" x2="805.7" y2="980.9" stroke="#A500E2" stroke-width="2.2" stroke-linecap="round"/>
<line x1="774.5" y1="942.7" x2="816.9" y2="942.7" stroke="#A500E2" stroke-width="2.2" stroke-linecap="butt"/>
<polygon points="791.95,902.5 799.45,902.5 795.7,909.5" fill="#A500E2"/>
<polygon points="791.95,934.1 799.45,934.1 795.7,941.1" fill="#A500E2"/>
<polygon points="791.95,978.8 799.45,978.8 795.7,985.8" fill="#A500E2"/>
</svg>
</body></html>
